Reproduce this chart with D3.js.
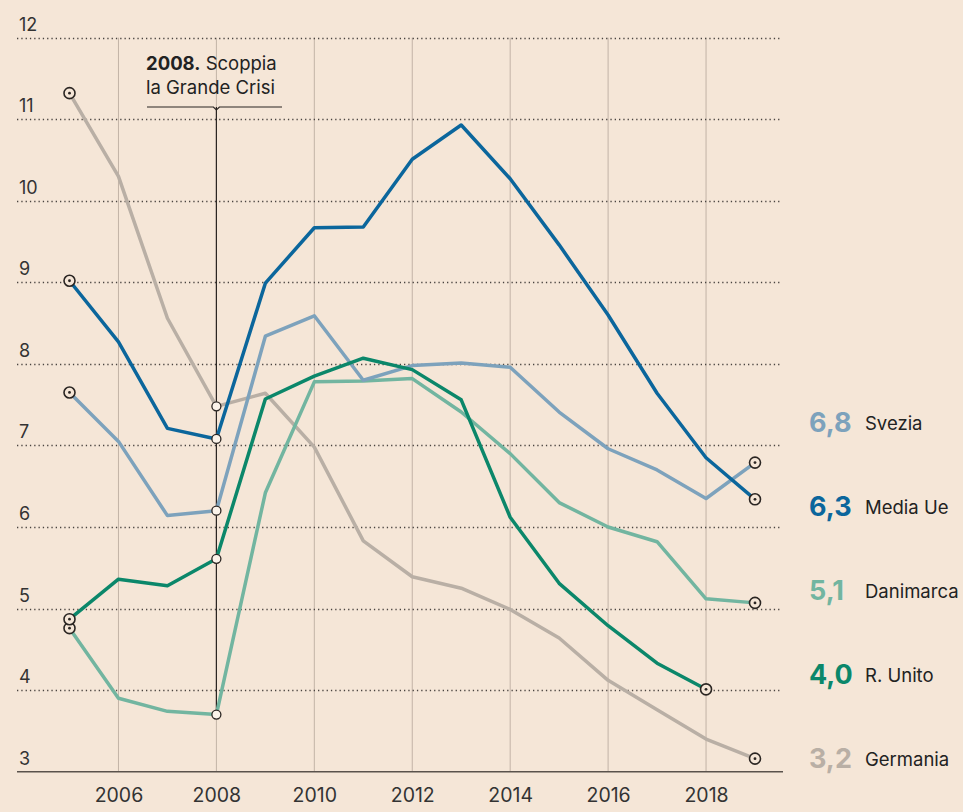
<!DOCTYPE html>
<html>
<head>
<meta charset="utf-8">
<script src="https://cdn.jsdelivr.net/npm/d3@7"></script>
<style>
  body { margin: 0; background: #f5e6d7; }
  svg { display: block; font-family: Inter, 'Noto Sans', sans-serif; }
</style>
</head>
<body>
<div id="chart"></div>
<script>
// Data
const years = d3.range(2005, 2020)
const yTicks = [3, 4, 5, 6, 7, 8, 9, 10, 11, 12]
const xTicks = [2006, 2008, 2010, 2012, 2014, 2016, 2018]

const germania  = [11.32, 10.30, 8.56, 7.48, 7.64, 6.98, 5.83, 5.39, 5.25, 4.99, 4.64, 4.12, 3.76, 3.40, 3.16]
const mediaUe   = [9.02, 8.27, 7.21, 7.08, 8.99, 9.67, 9.68, 10.51, 10.93, 10.27, 9.46, 8.60, 7.64, 6.85, 6.34]
const svezia    = [7.65, 7.05, 6.14, 6.20, 8.34, 8.59, 7.80, 7.98, 8.01, 7.96, 7.41, 6.96, 6.70, 6.35, 6.79]
const danimarca = [4.76, 3.90, 3.74, 3.70, 6.42, 7.78, 7.79, 7.82, 7.41, 6.90, 6.30, 6.00, 5.82, 5.12, 5.07]
const regnoUnito = [4.87, 5.36, 5.28, 5.61, 7.57, 7.85, 8.07, 7.93, 7.56, 6.12, 5.31, 4.79, 4.33, 4.01]

const seriesNames = ['Germania', 'Danimarca', 'Svezia', 'R. Unito', 'Media Ue']
const seriesValues = [germania, danimarca, svezia, regnoUnito, mediaUe]
const seriesColors = ['#b9afa5', '#72b5a0', '#7da2bc', '#0b876a', '#0b669c']
const lastLabels = ['3,2', '5,1', '6,8', '4,0', '6,3']
// order of the labels on the right, top to bottom
const labelOrder = ['Svezia', 'Media Ue', 'Danimarca', 'R. Unito', 'Germania']

const series = seriesNames.map((name, i) => ({
    name,
    color: seriesColors[i],
    label: lastLabels[i],
    values: seriesValues[i].map((v, j) => ({ year: years[j], value: v }))
}))

// Dimensions
const width = 963
const height = 812
const bg = '#f5e6d7'

const svg = d3.select('#chart')
    .append('svg')
    .attr('width', width)
    .attr('height', height)

svg.append('rect')
    .attr('width', width)
    .attr('height', height)
    .attr('fill', bg)

const xScale = d3.scaleLinear()
    .domain([2005, 2019])
    .range([69.5, 755])

const yScale = d3.scaleLinear()
    .domain([3, 12])
    .range([771.7, 37.7])

const left = 17
const right = 782

// Vertical grid
svg.append('g')
    .selectAll('line')
    .data(xTicks)
    .join('line')
    .attr('x1', d => xScale(d))
    .attr('x2', d => xScale(d))
    .attr('y1', yScale(12))
    .attr('y2', yScale(3))
    .attr('stroke', '#c2b3a6')
    .attr('stroke-width', 1)

// Horizontal dotted grid
svg.append('g')
    .selectAll('line')
    .data(yTicks.filter(d => d > 3))
    .join('line')
    .attr('x1', left)
    .attr('x2', right)
    .attr('y1', d => Math.round(yScale(d)) + 0.5)
    .attr('y2', d => Math.round(yScale(d)) + 0.5)
    .attr('stroke', '#4a4440')
    .attr('stroke-width', 1.3)
    .attr('stroke-dasharray', '1.3 3')

// Y labels
svg.append('g')
    .selectAll('text')
    .data(yTicks)
    .join('text')
    .attr('x', 19)
    .attr('y', d => yScale(d) - 7)
    .attr('font-size', 18)
    .attr('fill', '#333')
    .text(d => d)

// Bottom axis
const xAxis = d3.axisBottom(xScale)
    .tickValues(xTicks)
    .tickFormat(d3.format('d'))
    .tickSize(0)
    .tickPadding(16)

const xg = svg.append('g')
    .attr('transform', `translate(0, ${yScale(3)})`)
    .call(xAxis)
xg.select('.domain').remove()
xg.selectAll('text')
    .attr('font-size', 19.5)
    .attr('fill', '#333')
    .attr('font-family', 'Inter, sans-serif')

svg.append('line')
    .attr('x1', left)
    .attr('x2', right + 1)
    .attr('y1', yScale(3))
    .attr('y2', yScale(3))
    .attr('stroke', '#5a524c')
    .attr('stroke-width', 1.5)

// Annotation 2008
const annX = xScale(2008)
const annY = 107
svg.append('line')
    .attr('x1', annX)
    .attr('x2', annX)
    .attr('y1', annY)
    .attr('y2', yScale(danimarca[3]))
    .attr('stroke', '#2a2522')
    .attr('stroke-width', 1.2)

svg.append('path')
    .attr('d', `M147,${annY} H${annX - 3} L${annX},${annY + 3} L${annX + 3},${annY} H282`)
    .attr('fill', 'none')
    .attr('stroke', '#2a2522')
    .attr('stroke-width', 1.2)

const ann = svg.append('text')
    .attr('x', 146)
    .attr('y', 70)
    .attr('font-size', 18.5)
    .attr('fill', '#222')
ann.append('tspan').attr('font-weight', 700).text('2008.')
ann.append('tspan').text(' Scoppia')
svg.append('text')
    .attr('x', 146)
    .attr('y', 94)
    .attr('font-size', 18.5)
    .attr('fill', '#222')
    .text('la Grande Crisi')

// Lines
const lineGenerator = d3.line()
    .x(d => xScale(d.year))
    .y(d => yScale(d.value))

svg.append('g')
    .selectAll('path')
    .data(series)
    .join('path')
    .attr('d', d => lineGenerator(d.values))
    .attr('fill', 'none')
    .attr('stroke', d => d.color)
    .attr('stroke-width', 3.5)
    .attr('stroke-linejoin', 'round')

// 2008 markers
svg.append('g')
    .selectAll('circle')
    .data(series)
    .join('circle')
    .attr('cx', annX)
    .attr('cy', d => yScale(d.values[3].value))
    .attr('r', 4.5)
    .attr('fill', '#fbf3ea')
    .attr('stroke', '#2a2522')
    .attr('stroke-width', 1.3)

// End markers (first and last)
const ends = series.flatMap(s => [s.values[0], s.values[s.values.length - 1]])
const endG = svg.append('g')
    .selectAll('g')
    .data(ends)
    .join('g')
    .attr('transform', d => `translate(${xScale(d.year)}, ${yScale(d.value)})`)
endG.append('circle')
    .attr('r', 5.5)
    .attr('fill', bg)
    .attr('stroke', '#2a2522')
    .attr('stroke-width', 1.6)
endG.append('circle')
    .attr('r', 1.4)
    .attr('fill', '#2a2522')

// Right labels
const labelY = d3.scalePoint()
    .domain(labelOrder)
    .range([423, 759])

const lab = svg.append('g')
    .selectAll('g')
    .data(series)
    .join('g')
    .attr('transform', d => `translate(0, ${labelY(d.name)})`)
lab.append('text')
    .attr('x', 809)
    .attr('y', 9)
    .attr('font-size', 27)
    .attr('font-weight', 700)
    .attr('fill', d => d.color)
    .text(d => d.label)
lab.append('text')
    .attr('x', 865)
    .attr('y', 7)
    .attr('font-size', 18.5)
    .attr('fill', '#222')
    .text(d => d.name)
</script>
</body>
</html>
